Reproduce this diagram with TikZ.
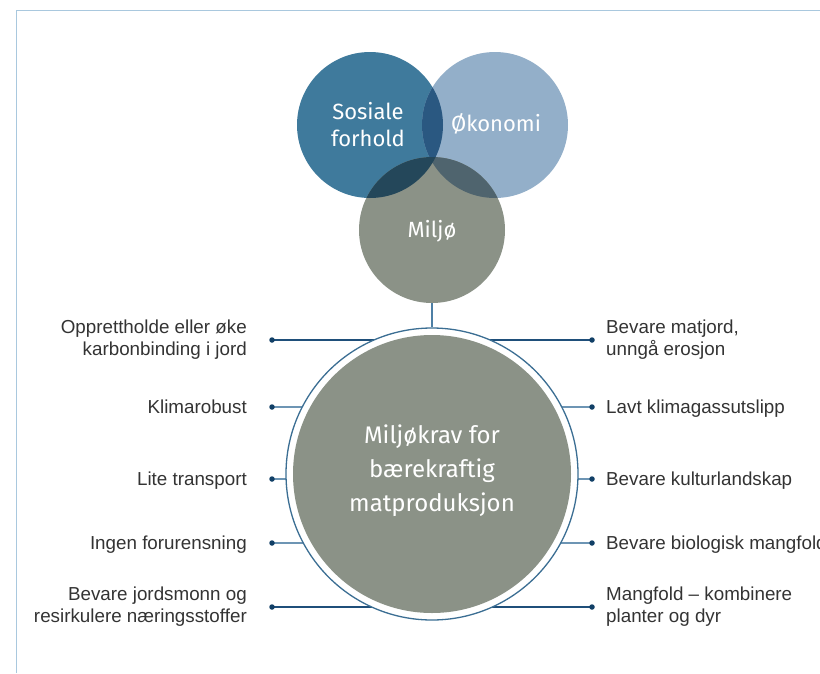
\documentclass[tikz,border=0pt]{standalone}
\usepackage{fontspec}
\setmainfont{Liberation Sans}
\newfontfamily\dinfont{Fira Sans}
\usetikzlibrary{backgrounds}
\definecolor{frameC}{HTML}{A9C8DE}
\definecolor{sosC}{HTML}{3F7A9C}
\definecolor{okoC}{HTML}{93AFC9}
\definecolor{milC}{HTML}{8B9287}
\definecolor{soC}{HTML}{2A5881}
\definecolor{smC}{HTML}{24475A}
\definecolor{omC}{HTML}{4F646E}
\definecolor{ringC}{HTML}{3B6E93}
\definecolor{darkC}{HTML}{1F4F7A}
\definecolor{lightC}{HTML}{6D95B4}
\definecolor{dotC}{HTML}{113F66}
\definecolor{vlineC}{HTML}{4D7FA5}
\definecolor{txtC}{HTML}{333333}
\tikzset{
  vc/.style={circle, minimum size=146pt, inner sep=0pt, draw=none},
  vtext/.style={text=white, font=\dinfont\fontsize{22}{27}\selectfont, align=center, inner sep=0pt},
  dotn/.style={circle, fill=dotC, minimum size=5.5pt, inner sep=0pt},
  lbl/.style={font=\fontsize{18.8}{22}\selectfont, text=txtC, inner sep=0pt},
  lbl1/.style={text height=13.5pt, text depth=0pt},
  lblL/.style={lbl, anchor=east, align=right},
  lblR/.style={lbl, anchor=west, align=left},
  conDark/.style={draw=darkC, line width=1.3pt},
  conLight/.style={draw=lightC, line width=1.5pt},
}
\begin{document}
\begin{tikzpicture}[x=1pt,y=-1pt]
\useasboundingbox (0,0) rectangle (820,673);
\draw[frameC, line width=1.5pt] (16.5,673) -- (16.5,10.5) -- (820,10.5);

% Venn circles
\node[vc, fill=sosC] (sos) at (370,125) {};
\node[vc, fill=okoC] (oko) at (495,125) {};
\node[vc, fill=milC] (mil) at (432,230) {};
\begin{scope}
  \clip (sos.center) circle (73);
  \fill[soC] (oko.center) circle (73);
\end{scope}
\begin{scope}
  \clip (oko.center) circle (73);
  \fill[omC] (mil.center) circle (73);
\end{scope}
\begin{scope}
  \clip (sos.center) circle (73);
  \fill[smC] (mil.center) circle (73);
\end{scope}
\node[vtext] (sosT) at (368,125) {Sosiale\\forhold};
\node[vtext] (okoT) at (496,124) {Økonomi};
\node[vtext] (milT) at (432,231) {Miljø};

% central circle
\node[circle, minimum size=292pt, inner sep=0pt, draw=ringC, line width=1.3pt, fill=white] (ring) at (432,474) {};
\node[circle, minimum size=278pt, inner sep=0pt, fill=milC] (core) at (ring.center) {};
\node[text=white, font=\dinfont\fontsize{24}{34}\selectfont, align=center, inner sep=0pt] (coreT) at (432,471) {Miljøkrav for\\bærekraftig\\matproduksjon};

% dots
\node[dotn] (dL1) at (272,340) {};
\node[dotn] (dL2) at (272,407) {};
\node[dotn] (dL3) at (272,479) {};
\node[dotn] (dL4) at (272,543) {};
\node[dotn] (dL5) at (272,607) {};
\node[dotn] (dR1) at (592,340) {};
\node[dotn] (dR2) at (592,407) {};
\node[dotn] (dR3) at (592,479) {};
\node[dotn] (dR4) at (592,543) {};
\node[dotn] (dR5) at (592,607) {};

% connectors (behind the ring)
\begin{pgfonlayer}{background}
  \draw[vlineC, line width=1.5pt] (mil.south) -- (ring.north);
  \draw[conDark] (dL1.center) -- (dL1.center -| ring.center);
  \draw[conLight] (dL2.center) -- (dL2.center -| ring.center);
  \draw[conLight] (dL3.center) -- (dL3.center -| ring.center);
  \draw[conLight] (dL4.center) -- (dL4.center -| ring.center);
  \draw[conDark] (dL5.center) -- (dL5.center -| ring.center);
  \draw[conDark] (dR1.center) -- (dR1.center -| ring.center);
  \draw[conLight] (dR2.center) -- (dR2.center -| ring.center);
  \draw[conLight] (dR3.center) -- (dR3.center -| ring.center);
  \draw[conLight] (dR4.center) -- (dR4.center -| ring.center);
  \draw[conDark] (dR5.center) -- (dR5.center -| ring.center);
\end{pgfonlayer}

% labels
\node[lblL] (tL1) at (247,340) {Opprettholde eller øke\\karbonbinding i jord};
\node[lblL, lbl1] (tL2) at (247,407) {Klimarobust};
\node[lblL, lbl1] (tL3) at (247,479) {Lite transport};
\node[lblL, lbl1] (tL4) at (247,543) {Ingen forurensning};
\node[lblL] (tL5) at (247,607) {Bevare jordsmonn og\\resirkulere næringsstoffer};
\node[lblR] (tR1) at (606,340) {Bevare matjord,\\unngå erosjon};
\node[lblR, lbl1] (tR2) at (606,407) {Lavt klimagassutslipp};
\node[lblR, lbl1] (tR3) at (606,479) {Bevare kulturlandskap};
\node[lblR, lbl1] (tR4) at (606,543) {Bevare biologisk mangfold};
\node[lblR] (tR5) at (606,607) {Mangfold – kombinere\\planter og dyr};
\end{tikzpicture}
\end{document}
